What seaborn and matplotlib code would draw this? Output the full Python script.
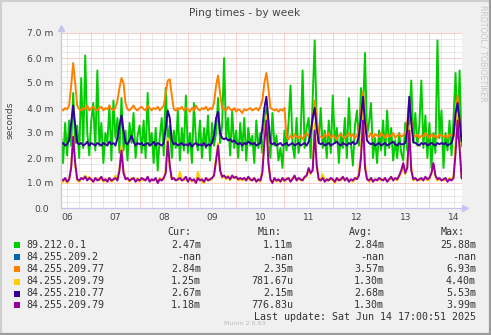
import numpy as np
import pandas as pd
import matplotlib
matplotlib.use("Agg")
import matplotlib.pyplot as plt
import seaborn as sns
from matplotlib.patches import Rectangle
from matplotlib.lines import Line2D
from matplotlib.transforms import ScaledTranslation

# ---------------------------------------------------------------- data
hosts = ["89.212.0.1", "84.255.209.2", "84.255.209.77",
         "84.255.209.79", "84.255.210.77", "84.255.209.79"]
colors = ["#00CC00", "#0066B3", "#FF8000", "#FFCC00", "#330099", "#990099"]

# hourly samples, starting Jun 6 09:00 (x is day of month)
hours = np.arange(200)
day = 6 + (9 + hours) / 24.0

# round-trip times in milliseconds
ping_89_212_0_1 = [
    2.9, 1.8, 3.4, 2.1, 3.5, 2.5, 4.6, 2.6, 3.3, 2.0,
    5.2, 2.4, 6.1, 3.0, 2.1, 3.5, 4.2, 2.3, 5.5, 2.5,
    3.4, 1.8, 3.0, 2.6, 4.1, 1.9, 4.3, 2.8, 3.6, 2.2,
    4.4, 2.3, 3.1, 1.9, 3.4, 2.6, 3.8, 2.0, 2.9, 3.3,
    2.2, 3.5, 2.0, 4.6, 2.5, 3.0, 1.8, 3.2, 1.5, 2.8,
    3.6, 2.1, 4.8, 2.6, 3.3, 2.0, 3.1, 2.4, 3.9, 1.9,
    3.2, 2.3, 4.5, 2.2, 3.0, 1.8, 4.2, 2.7, 2.3, 3.5,
    2.0, 3.2, 2.4, 3.7, 1.9, 3.4, 2.5, 3.0, 4.4, 2.6,
    3.3, 6.0, 2.8, 3.6, 2.1, 3.9, 2.4, 3.1, 2.0, 3.4,
    2.3, 3.6, 1.9, 3.2, 2.5, 2.9, 1.8, 3.5, 2.4, 3.0,
    2.2, 3.3, 4.0, 2.6, 2.0, 3.8, 2.5, 2.9, 1.9, 2.4,
    1.6, 3.1, 2.3, 3.4, 4.9, 2.5, 2.0, 3.6, 2.2, 2.8,
    5.5, 2.4, 3.2, 3.6, 2.0, 4.3, 6.7, 3.4, 2.6, 4.0,
    2.4, 3.1, 2.0, 3.5, 2.2, 4.5, 2.6, 3.2, 1.8, 3.0,
    2.4, 3.6, 2.0, 4.4, 2.6, 1.7, 3.3, 3.9, 2.5, 4.8,
    3.8, 6.2, 2.9, 3.4, 4.2, 2.0, 2.8, 1.8, 3.1, 2.3,
    3.5, 2.1, 3.9, 2.4, 3.2, 1.9, 2.7, 2.0, 3.0, 2.2,
    1.9, 3.4, 2.3, 3.5, 5.1, 2.6, 3.8, 2.5, 3.3, 5.1,
    2.4, 3.7, 2.0, 3.4, 1.6, 3.0, 2.2, 6.7, 2.8, 3.9,
    1.6, 3.0, 2.3, 3.5, 2.1, 3.6, 5.4, 2.8, 5.5, 2.47,
]
ping_84_255_209_2 = [np.nan] * len(hours)  # host never answered
ping_84_255_209_77 = [
    3.95, 3.9, 4.0, 3.95, 4.1, 4.9, 5.8, 5.0, 4.1, 3.95,
    3.9, 4.0, 3.95, 4.1, 3.9, 4.0, 4.05, 3.95, 3.9, 4.0,
    4.05, 3.9, 4.0, 3.95, 4.1, 3.95, 3.9, 4.0, 4.3, 4.8,
    5.2, 5.0, 4.2, 3.95, 3.9, 4.0, 4.1, 3.95, 3.9, 4.0,
    4.05, 3.95, 3.9, 4.1, 4.0, 3.9, 4.0, 3.95, 4.05, 3.9,
    4.0, 4.1, 4.6, 5.1, 5.15, 4.5, 3.95, 3.9, 4.0, 3.95,
    4.05, 3.9, 4.0, 3.95, 3.85, 4.0, 3.9, 4.1, 3.95, 3.9,
    4.0, 3.95, 4.05, 3.9, 4.0, 3.95, 4.2, 4.9, 5.3, 4.6,
    4.0, 3.95, 3.9, 4.05, 3.95, 3.9, 4.0, 3.85, 3.95, 3.9,
    3.8, 3.95, 3.9, 3.95, 4.0, 3.9, 3.95, 4.0, 3.9, 4.05,
    4.3, 5.0, 5.4, 4.8, 4.0, 3.95, 3.9, 3.95, 3.85, 3.95,
    3.9, 4.0, 2.85, 2.75, 2.9, 2.8, 2.95, 2.85, 2.8, 2.9,
    2.75, 2.9, 3.0, 2.85, 2.95, 3.5, 4.3, 3.6, 2.9, 2.85,
    2.8, 2.95, 2.85, 3.0, 2.8, 2.9, 2.85, 2.75, 2.9, 2.95,
    2.85, 2.8, 2.9, 3.0, 2.85, 2.95, 2.8, 2.9, 3.1, 3.8,
    4.65, 3.6, 2.9, 2.85, 3.0, 2.8, 2.95, 2.9, 2.85, 3.0,
    2.9, 2.8, 2.95, 2.85, 2.9, 3.0, 2.8, 2.9, 2.95, 2.85,
    2.9, 3.0, 3.4, 4.3, 3.5, 2.9, 2.85, 2.95, 2.8, 2.9,
    2.85, 3.0, 2.9, 2.8, 2.95, 2.85, 2.9, 2.8, 2.95, 2.9,
    2.85, 2.9, 2.8, 2.95, 2.9, 2.85, 3.6, 4.5, 3.5, 2.84,
]
ping_84_255_209_79a = [
    1.0, 1.05, 1.15, 1.0, 1.1, 1.7, 2.9, 1.7, 1.1, 1.05,
    1.15, 1.2, 1.3, 1.15, 1.25, 1.1, 1.05, 1.15, 1.2, 1.1,
    1.2, 1.05, 1.1, 1.15, 1.2, 1.05, 1.1, 1.3, 1.2, 1.6,
    2.5, 1.5, 1.2, 1.15, 1.05, 1.2, 1.15, 1.1, 1.2, 1.05,
    1.15, 1.1, 1.15, 1.2, 1.1, 1.1, 1.15, 1.15, 1.05, 1.2,
    1.15, 1.15, 1.5, 2.8, 1.6, 1.2, 1.15, 1.15, 1.1, 1.45,
    1.15, 1.1, 1.2, 1.1, 1.15, 1.05, 1.1, 1.05, 1.45, 1.15,
    1.05, 1.0, 1.15, 1.15, 1.1, 1.15, 1.35, 2.0, 2.6, 1.6,
    1.2, 1.25, 1.15, 1.3, 1.1, 1.25, 1.25, 1.2, 1.1, 1.15,
    1.1, 1.15, 1.15, 1.2, 1.1, 1.15, 1.15, 1.1, 1.1, 1.05,
    1.5, 2.9, 3.7, 2.0, 1.1, 1.05, 1.15, 1.05, 1.1, 1.1,
    1.15, 1.05, 1.2, 1.15, 1.1, 1.2, 1.25, 1.15, 1.15, 1.1,
    1.15, 1.2, 1.25, 1.5, 1.35, 1.6, 3.4, 1.8, 1.1, 1.15,
    1.35, 1.1, 1.1, 1.15, 1.15, 1.1, 1.0, 1.15, 1.15, 1.1,
    1.2, 1.15, 1.15, 1.1, 1.1, 1.05, 1.15, 1.2, 1.4, 2.3,
    4.0, 1.8, 1.2, 1.05, 1.15, 1.1, 1.1, 1.15, 1.15, 1.1,
    1.15, 1.15, 1.1, 1.1, 1.2, 1.15, 1.15, 1.1, 1.25, 1.4,
    1.7, 1.35, 1.65, 3.3, 1.6, 1.1, 1.15, 1.15, 1.1, 1.15,
    1.15, 1.2, 1.1, 1.15, 1.35, 1.7, 1.25, 1.1, 1.15, 1.15,
    1.1, 1.15, 1.1, 1.2, 1.15, 1.25, 2.5, 3.8, 2.6, 1.25,
]
ping_84_255_210_77 = [
    2.55, 2.6, 2.5, 2.55, 2.7, 3.4, 4.1, 3.3, 2.6, 2.55,
    2.6, 2.5, 2.55, 2.65, 2.5, 2.6, 2.55, 2.5, 2.6, 2.55,
    2.5, 2.6, 2.55, 2.5, 2.65, 2.55, 2.6, 2.5, 2.8, 3.3,
    3.7, 3.1, 2.6, 2.55, 2.7, 2.9, 2.65, 2.5, 2.6, 2.55,
    2.6, 2.5, 2.55, 2.6, 2.5, 2.55, 2.65, 2.5, 2.6, 2.55,
    2.5, 2.6, 3.2, 3.9, 3.6, 2.7, 2.55, 2.6, 2.5, 2.55,
    2.6, 2.5, 2.55, 2.5, 2.6, 2.45, 2.55, 2.6, 2.5, 2.55,
    2.5, 2.6, 2.45, 2.55, 2.5, 2.6, 2.9, 3.6, 3.85, 3.0,
    2.8, 2.75, 2.8, 2.7, 2.75, 2.65, 2.7, 2.6, 2.55, 2.6,
    2.5, 2.6, 2.55, 2.65, 2.6, 2.55, 2.6, 2.5, 2.55, 2.6,
    3.2, 4.0, 4.45, 3.5, 2.6, 2.55, 2.6, 2.5, 2.55, 2.6,
    2.5, 2.55, 2.6, 2.5, 2.55, 2.6, 2.5, 2.55, 2.6, 2.5,
    2.55, 2.6, 2.5, 2.65, 3.0, 3.6, 4.0, 3.2, 2.6, 2.55,
    2.6, 2.5, 2.55, 2.6, 2.5, 2.55, 2.6, 2.65, 2.55, 2.5,
    2.6, 2.55, 2.5, 2.6, 2.55, 2.65, 2.55, 2.6, 2.9, 3.6,
    4.45, 3.4, 2.7, 2.6, 2.55, 2.6, 2.5, 2.55, 2.6, 2.5,
    2.55, 2.6, 2.5, 2.55, 2.6, 2.65, 2.55, 2.5, 2.6, 2.55,
    2.55, 2.6, 3.1, 4.45, 3.4, 2.65, 2.6, 2.55, 2.5, 2.6,
    2.55, 2.6, 2.5, 2.55, 2.6, 2.55, 2.5, 2.6, 2.55, 2.6,
    2.55, 2.6, 2.5, 2.55, 2.6, 2.9, 3.8, 4.2, 3.5, 2.67,
]
ping_84_255_209_79b = [
    1.15, 1.1, 1.2, 1.05, 1.15, 1.6, 2.85, 1.8, 1.15, 1.1,
    1.2, 1.15, 1.25, 1.1, 1.2, 1.15, 1.05, 1.2, 1.1, 1.15,
    1.25, 1.1, 1.15, 1.05, 1.2, 1.1, 1.15, 1.2, 1.1, 1.5,
    2.3, 1.4, 1.15, 1.2, 1.1, 1.15, 1.2, 1.05, 1.15, 1.1,
    1.2, 1.15, 1.1, 1.25, 1.05, 1.15, 1.1, 1.2, 1.0, 1.15,
    1.1, 1.2, 1.4, 2.65, 1.7, 1.15, 1.2, 1.1, 1.15, 1.2,
    1.1, 1.15, 1.25, 1.05, 1.2, 1.1, 1.15, 1.0, 1.2, 1.1,
    1.15, 1.05, 1.2, 1.1, 1.15, 1.2, 1.3, 1.9, 2.5, 1.5,
    1.25, 1.3, 1.2, 1.25, 1.15, 1.3, 1.2, 1.25, 1.15, 1.2,
    1.15, 1.2, 1.1, 1.25, 1.15, 1.1, 1.2, 1.05, 1.15, 1.1,
    1.4, 2.6, 3.5, 1.8, 1.15, 1.0, 1.2, 1.1, 1.15, 1.05,
    1.2, 1.1, 1.15, 1.2, 1.05, 1.15, 1.3, 1.1, 1.2, 1.15,
    1.1, 1.25, 1.3, 1.6, 1.4, 1.5, 3.1, 1.7, 1.15, 1.1,
    1.2, 1.05, 1.15, 1.1, 1.2, 1.15, 1.05, 1.2, 1.1, 1.15,
    1.25, 1.1, 1.2, 1.05, 1.15, 1.1, 1.2, 1.15, 1.3, 2.0,
    3.5, 1.6, 1.15, 1.1, 1.2, 1.05, 1.15, 1.1, 1.2, 1.15,
    1.1, 1.2, 1.05, 1.15, 1.25, 1.1, 1.2, 1.15, 1.3, 1.5,
    1.8, 1.4, 1.6, 3.1, 1.5, 1.15, 1.2, 1.1, 1.15, 1.2,
    1.1, 1.25, 1.15, 1.2, 1.4, 1.8, 1.3, 1.15, 1.2, 1.1,
    1.15, 1.2, 1.05, 1.15, 1.1, 1.2, 2.2, 3.5, 2.4, 1.18,
]
series = [ping_89_212_0_1, ping_84_255_209_2, ping_84_255_209_77,
          ping_84_255_209_79a, ping_84_255_210_77, ping_84_255_209_79b]

min_labels = ["1.11m", "-nan", "2.35m", "781.67u", "2.15m", "776.83u"]
avg_labels = ["2.84m", "-nan", "3.57m", "1.30m", "2.68m", "1.30m"]
max_labels = ["25.88m", "-nan", "6.93m", "4.40m", "5.53m", "3.99m"]

day_labels = ["06", "07", "08", "09", "10", "11", "12", "13", "14"]
y_labels = ["0.0", "1.0 m", "2.0 m", "3.0 m", "4.0 m", "5.0 m", "6.0 m", "7.0 m"]

# ---------------------------------------------------------------- figure
sns.set_style("white")
plt.rcParams["font.family"] = ["DejaVu Sans"]

W, H = 491, 335
fig = plt.figure(figsize=(W / 100, H / 100), dpi=100, facecolor="#F0F0F0")


def fx(px):
    return px / W


def fy(py):
    return 1 - py / H


x0, x1 = 6.373, 14.675
ax = fig.add_axes([fx(61), fy(208), fx(401), 175.5 / H])
ax.set_facecolor("white")
ax.set_xlim(x0, x1)
ax.set_ylim(0, 7.02)
for s in ax.spines.values():
    s.set_visible(False)

# grid: grey dotted minor, red dotted major
dot = (0, (1, 1))
for v in np.arange(0.25, 7.0, 0.25):
    if abs(v - round(v)) > 1e-6:
        ax.axhline(v, color="#D4D4D4", lw=0.72, ls=dot, zorder=0)
for d in np.arange(6.5, x1, 0.25):
    if abs(d - round(d)) > 1e-6:
        ax.axvline(d, color="#D4D4D4", lw=0.72, ls=dot, zorder=0)
for v in range(1, 8):
    ax.axhline(v, color="#F4A0A0", lw=0.72, ls=dot, zorder=0.5)
for d in range(7, 15):
    ax.axvline(d, color="#F4A0A0", lw=0.72, ls=dot, zorder=0.5)

# series, drawn in legend order so the later hosts sit on top
for name, vals, col in zip(hosts, series, colors):
    v = np.asarray(vals, dtype=float)
    if np.all(np.isnan(v)):
        continue
    sns.lineplot(x=day, y=v, color=col, lw=1.4, ax=ax, zorder=3,
                 estimator=None, legend=False)
ax.set_xlabel("")
ax.set_ylabel("")

# axis lines with arrow heads
axis_col = "#C4C4EE"
ax.add_line(Line2D([0, 1.008], [0, 0], transform=ax.transAxes, color=axis_col,
                   lw=0.9, clip_on=False, zorder=4))
ax.add_line(Line2D([0, 0], [0, 1.02], transform=ax.transAxes, color=axis_col,
                   lw=0.9, clip_on=False, zorder=4))
ax.plot([1.008], [0], marker=">", ms=4, color=axis_col, transform=ax.transAxes,
        clip_on=False, zorder=4)
ax.plot([0], [1.025], marker="^", ms=4, color=axis_col, transform=ax.transAxes,
        clip_on=False, zorder=4)

# ticks
ax.set_yticks(range(8))
ax.set_yticklabels(y_labels)
ax.set_xticks([int(d) + 0.5 for d in day_labels])
ax.set_xticklabels(day_labels)
ax.tick_params(axis="y", length=0, pad=5.5, labelsize=6.6, labelcolor="#444444")
ax.tick_params(axis="x", length=0, pad=3.5, labelsize=6.6, labelcolor="#444444")
lbl0 = ax.get_yticklabels()[0]
lbl0.set_transform(lbl0.get_transform() +
                   ScaledTranslation(-4 / 100, 0, fig.dpi_scale_trans))

# titles and side texts
fig.text(fx(245), fy(13), "Ping times - by week", ha="center", va="center",
         fontsize=7.7, color="#444444")
fig.text(fx(10), fy(120.5), "seconds", ha="center", va="center", rotation=90,
         fontsize=6.6, color="#444444")
fig.text(fx(483), fy(5), "RRDTOOL / TOBIOETIKER", ha="center", va="top",
         rotation=270, fontsize=5.6, color="#C8C8C8")

# legend table
mono = "DejaVu Sans Mono"
tc = "#333333"
fs = 7.2
for hx, htxt in zip([167, 258, 349, 441], ["Cur:", "Min:", "Avg:", "Max:"]):
    fig.text(fx(hx), fy(232), htxt, ha="left", va="center", family=mono,
             fontsize=fs, color=tc)
rows_y = [245, 257, 269, 281.5, 293.5, 305]
for i, (name, vals, col) in enumerate(zip(hosts, series, colors)):
    y = rows_y[i]
    fig.patches.append(Rectangle((fx(14), fy(y + 3)), fx(6), 6 / H,
                                 transform=fig.transFigure, facecolor=col,
                                 edgecolor="none"))
    fig.text(fx(26), fy(y), name, ha="left", va="center", family=mono,
             fontsize=fs, color=tc)
    last = vals[-1]
    cur = "-nan" if np.isnan(last) else f"{last:.2f}m"
    for rx, txt in zip([201, 293, 384, 476],
                       [cur, min_labels[i], avg_labels[i], max_labels[i]]):
        fig.text(fx(rx), fy(y), txt, ha="right", va="center", family=mono,
                 fontsize=fs, color=tc)

fig.text(fx(476), fy(317), "Last update: Sat Jun 14 17:00:51 2025",
         ha="right", va="center", family=mono, fontsize=fs, color=tc)
fig.text(fx(245), fy(323.5), "Munin 2.0.63", ha="center", va="center",
         fontsize=4.6, color="#BBBBBB")

# bevelled image border
fig.add_artist(Line2D([0, 1], [fy(0.5)] * 2, transform=fig.transFigure,
                      color="#CFCFCF", lw=1.5))
fig.add_artist(Line2D([fx(0.5)] * 2, [0, 1], transform=fig.transFigure,
                      color="#CFCFCF", lw=1.5))
fig.add_artist(Line2D([0, 1], [fy(334)] * 2, transform=fig.transFigure,
                      color="#9C9C9C", lw=1.6))
fig.add_artist(Line2D([fx(490)] * 2, [0, 1], transform=fig.transFigure,
                      color="#9C9C9C", lw=1.6))

fig.savefig("out.png", dpi=100, facecolor=fig.get_facecolor())
